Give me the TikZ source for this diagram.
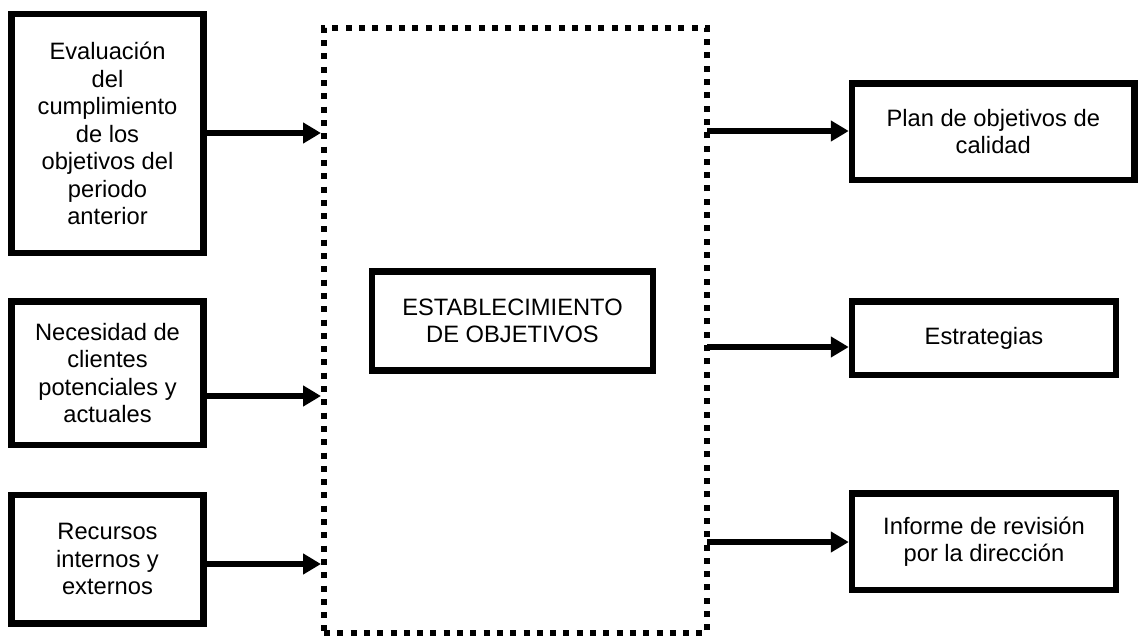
\documentclass[tikz,border=0pt]{standalone}
\usepackage{fontspec}
\setmainfont{Liberation Sans}
\usetikzlibrary{arrows.meta}
\begin{document}
\begin{tikzpicture}[x=1pt,y=-1pt,
  box/.style={draw=black, line width=6.5pt, fill=white, align=center, inner sep=4pt,
    font=\fontsize{23.7}{27.5}\selectfont},
  frame/.style={draw=black, line width=6pt, dash pattern=on 6pt off 7.3pt},
  arr/.style={draw=black, line width=6.5pt, -{Triangle[length=18pt,width=20pt]}}]
\useasboundingbox (0,0) rectangle (1138,637);

% dotted frame around the central process
\node[frame, minimum width=383, minimum height=605] (frame) at (515.5,330.5) {};

% inputs
\node[box, minimum width=192, minimum height=239] (e1) at (107.5,133.5)
  {Evaluación\\del\\cumplimiento\\de los\\objetivos del\\periodo\\anterior};
\node[box, minimum width=192, minimum height=143.5] (e2) at (107.5,373.25)
  {Necesidad de\\clientes\\potenciales y\\actuales};
\node[box, minimum width=192, minimum height=128.5] (e3) at (107.5,559.25)
  {Recursos\\internos y\\externos};

% central process
\node[box, minimum width=281, minimum height=99] (proc) at (512.5,321)
  {ESTABLECIMIENTO\\DE OBJETIVOS};

% outputs
\node[box, minimum width=282.5, minimum height=96.5] (s1) at (993.25,131.75)
  {Plan de objetivos de\\calidad};
\node[box, minimum width=264, minimum height=73.5] (s2) at (984,338.25)
  {Estrategias};
\node[box, minimum width=264, minimum height=96.5] (s3) at (984,541.75)
  {Informe de revisión\\por la dirección};

% input arrows
\draw[arr] (e1.east |- 0,133) -- (frame.west |- 0,133);
\draw[arr] (e2.east |- 0,396) -- (frame.west |- 0,396);
\draw[arr] (e3.east |- 0,564) -- (frame.west |- 0,564);

% output arrows
\draw[arr] ([xshift=-3pt]frame.east |- 0,131) -- (s1.west |- 0,131);
\draw[arr] ([xshift=-3pt]frame.east |- 0,347) -- (s2.west |- 0,347);
\draw[arr] ([xshift=-3pt]frame.east |- 0,542) -- (s3.west |- 0,542);
\end{tikzpicture}
\end{document}
